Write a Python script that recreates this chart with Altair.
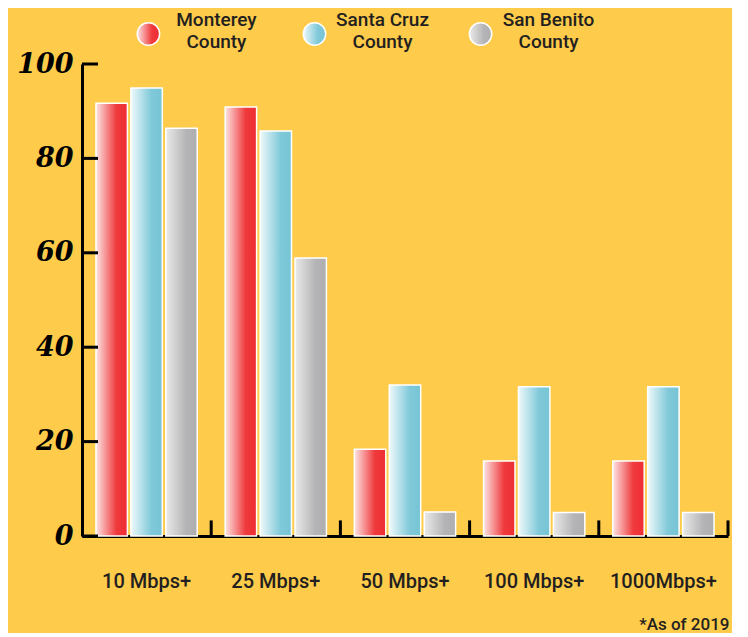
import altair as alt
import pandas as pd

categories = ["10 Mbps+", "25 Mbps+", "50 Mbps+", "100 Mbps+", "1000Mbps+"]
series = ["Monterey County", "Santa Cruz County", "San Benito County"]
legend_labels = ["Monterey\nCounty", "Santa Cruz\nCounty", "San Benito\nCounty"]
monterey = [91.7, 90.9, 18.4, 15.9, 15.9]
santa_cruz = [94.9, 85.8, 32.0, 31.6, 31.6]
san_benito = [86.4, 58.9, 5.1, 5.0, 5.0]
y_ticks = [0, 20, 40, 60, 80, 100]
footnote = "*As of 2019"

BG = "#FECB4A"
TXT = "#231F20"

rows = []
for s, vals in zip(series, [monterey, santa_cruz, san_benito]):
    for c, v in zip(categories, vals):
        rows.append({"category": c, "series": s, "value": v})
df = pd.DataFrame(rows)
cat_df = pd.DataFrame({"category": categories})
tick_df = pd.DataFrame({"tick": y_ticks})
leg_df = pd.DataFrame({"series": series, "label": legend_labels})


def grad(c0, c1, c2):
    return alt.Gradient(
        gradient="linear", x1=0, y1=0, x2=1, y2=0,
        stops=[alt.GradientStop(color=c0, offset=0),
               alt.GradientStop(color=c1, offset=0.65),
               alt.GradientStop(color=c2, offset=1)],
    )


grads = {
    "Monterey County": grad("#FDE4E4", "#EF3A3D", "#EE2D32"),
    "Santa Cruz County": grad("#EEF9FB", "#80C9D9", "#76C4D5"),
    "San Benito County": grad("#EAEAEA", "#B4B4B6", "#AEAEB0"),
}

xscale = alt.Scale(domain=categories, paddingInner=0, paddingOuter=0)
xoff_scale = alt.Scale(domain=series, paddingInner=0.1, paddingOuter=0.4)
yscale = alt.Scale(domain=[0, 100], nice=False)

x_axis = alt.Axis(labelAngle=0, ticks=False, domainColor="black", domainWidth=3,
                  bandPosition=0.5, labelPadding=35, labelFont="Roboto",
                  labelFontSize=20, labelFontWeight=500, labelColor=TXT)
x_enc = alt.X("category:N", scale=xscale, sort=categories, title=None, axis=x_axis)
y_enc = alt.Y(
    "value:Q", scale=yscale, title=None,
    axis=alt.Axis(values=y_ticks, ticks=False, grid=False, domainColor="black",
                  domainWidth=3, labelPadding=9, labelFont="DejaVu Serif",
                  labelFontSize=27, labelFontStyle="italic", labelFontWeight="bold",
                  labelColor="black"),
)

bar_layers = []
for s in series:
    bar_layers.append(
        alt.Chart(df).transform_filter(alt.datum.series == s)
        .mark_bar(fill=grads[s], stroke="white", strokeWidth=1.5)
        .encode(x=x_enc,
                xOffset=alt.XOffset("series:N", scale=xoff_scale, sort=series),
                y=y_enc)
    )

yticks = alt.Chart(tick_df).mark_rule(color="black", strokeWidth=3).encode(
    y=alt.Y("tick:Q", scale=yscale, title=None),
    x=alt.value(0), x2=alt.value(16),
)
xticks = alt.Chart(cat_df).mark_rule(color="black", strokeWidth=3).encode(
    x=alt.X("category:N", scale=xscale, sort=categories, bandPosition=1,
            title=None, axis=x_axis),
    y=alt.datum(0), y2=alt.datum(3.3),
)

main = alt.layer(*bar_layers, yticks, xticks).properties(
    width=646, height=472,
    title=alt.TitleParams(footnote, orient="bottom", anchor="end", font="Roboto",
                          fontSize=17, fontWeight=500, color=TXT, offset=26),
)

legend_base = alt.Chart(leg_df).encode(
    x=alt.X("series:N", sort=series, axis=None,
            scale=alt.Scale(type="point", domain=series, padding=0.4)),
)
leg_layers = []
for s in series:
    leg_layers.append(
        legend_base.transform_filter(alt.datum.series == s)
        .mark_point(shape="circle", filled=True, fill=grads[s], stroke="white",
                    strokeWidth=1.5, size=500, opacity=1)
    )
leg_text = legend_base.transform_calculate(
    lines="split(datum.label, '\\n')"
).mark_text(dx=68, dy=-14, align="center", baseline="middle", font="Roboto",
            fontSize=19, fontWeight=500, color=TXT, lineHeight=22).encode(
    text="lines:N"
)
legend = alt.layer(*leg_layers, leg_text).properties(width=465, height=52)

chart = alt.vconcat(legend, main, spacing=4, bounds="flush").properties(
    background=BG,
    padding={"left": 8, "top": 0, "right": 2, "bottom": 0},
).configure_view(stroke=None)

chart.save("out.html", embed_options={"renderer": "svg", "actions": False})
